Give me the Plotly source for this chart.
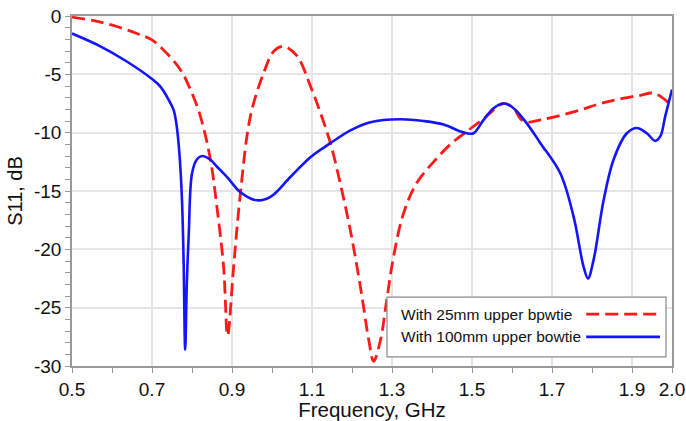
import plotly.graph_objects as go

# Data
freq_25 = [0.5, 0.554, 0.612, 0.662, 0.7, 0.737, 0.771, 0.796, 0.821, 0.846, 0.862, 0.879,
           0.889, 0.904, 0.921, 0.946, 0.979, 1.005, 1.029, 1.062, 1.096, 1.12, 1.146, 1.171,
           1.196, 1.221, 1.242, 1.254, 1.271, 1.287, 1.304, 1.329, 1.362, 1.412, 1.446, 1.479,
           1.529, 1.579, 1.604, 1.621, 1.637, 1.671, 1.712, 1.771, 1.821, 1.871, 1.921, 1.95,
           1.967, 1.983, 2.0]
s11_25 = [-0.1, -0.4, -0.9, -1.5, -2.05, -3.2, -4.6, -6.3, -8.6, -12.3, -16.3, -21.5,
          -27.4, -21.5, -15.2, -8.6, -4.9, -3.0, -2.6, -3.4, -6.0, -8.2, -10.9, -14.4,
          -18.4, -23.2, -27.8, -29.6, -27.8, -24.3, -20.6, -16.9, -14.3, -12.2, -11.0, -10.1,
          -8.8, -7.5, -7.9, -8.8, -9.1, -8.9, -8.6, -8.05, -7.5, -7.1, -6.8, -6.6,
          -6.8, -7.2, -7.7]

freq_100 = [0.5, 0.571, 0.637, 0.7, 0.721, 0.742, 0.754, 0.762, 0.769, 0.775, 0.779, 0.783,
            0.787, 0.792, 0.8, 0.812, 0.825, 0.845, 0.862, 0.89, 0.921, 0.9625, 0.996, 1.046,
            1.096, 1.146, 1.196, 1.246, 1.321, 1.379, 1.429, 1.471, 1.487, 1.504, 1.529, 1.554,
            1.579, 1.604, 1.637, 1.671, 1.721, 1.754, 1.779, 1.79, 1.804, 1.829, 1.854,
            1.887, 1.912, 1.937, 1.958, 1.971, 1.983, 2.0]
s11_100 = [-1.5, -2.6, -3.9, -5.4, -6.05, -7.2, -8.05, -9.5, -12.0, -15.8, -21.0, -28.6,
           -23.0, -18.6, -13.5, -12.3, -12.0, -12.3, -12.9, -13.9, -15.1, -15.8, -15.5, -13.8,
           -12.1, -10.9, -9.8, -9.1, -8.85, -9.0, -9.3, -9.9, -10.05, -10.05, -8.9, -7.9,
           -7.5, -7.9, -9.2, -10.9, -13.5, -17.2, -21.5, -22.5, -20.9, -15.8, -12.3,
           -10.05, -9.6, -10.05, -10.7, -10.3, -8.6, -6.3]

x_tickvals = [0.5, 0.7, 0.9, 1.1, 1.3, 1.5, 1.7, 1.9, 2.0]
x_ticktext = ["0.5", "0.7", "0.9", "1.1", "1.3", "1.5", "1.7", "1.9", "2.0"]
y_tickvals = [0, -5, -10, -15, -20, -25, -30]
y_ticktext = ["0", "-5", "-10", "-15", "-20", "-25", "-30"]

names = ["With 25mm upper bpwtie", "With 100mm upper bowtie"]
RED = "#ff1a1a"
BLUE = "#1414ff"
FONT = "Liberation Sans, Arial, sans-serif"

fig = go.Figure()
fig.add_trace(go.Scatter(x=freq_25, y=s11_25, mode="lines", name=names[0],
                         line=dict(color=RED, width=2.8, dash="13px,6px", shape="spline", smoothing=1.0)))
fig.add_trace(go.Scatter(x=freq_100, y=s11_100, mode="lines", name=names[1],
                         line=dict(color=BLUE, width=2.6, shape="spline", smoothing=1.0)))

axis_common = dict(showline=True, linecolor="#9a9a9a", linewidth=1.5, mirror=True,
                   gridcolor="#e6e6e6", gridwidth=1.5, zeroline=False, automargin=False,
                   ticks="outside", ticklen=5, tickcolor="#9a9a9a", tickwidth=1,
                   tickfont=dict(family=FONT, size=19, color="#111"))

fig.update_xaxes(range=[0.5, 2.0], tickvals=x_tickvals, ticktext=x_ticktext,
                 minor=dict(dtick=0.1, tick0=0.5, ticks="outside", ticklen=5,
                            tickcolor="#9a9a9a", showgrid=False),
                 title=dict(text="Frequency, GHz", font=dict(family=FONT, size=20.5, color="#111"),
                            standoff=3),
                 **axis_common)
fig.update_yaxes(range=[-30, 0], tickvals=y_tickvals, ticktext=y_ticktext,
                 minor=dict(dtick=1, tick0=0, ticks="outside", ticklen=5,
                            tickcolor="#9a9a9a", showgrid=False),
                 title=dict(text="S11, dB", font=dict(family=FONT, size=20, color="#111"),
                            standoff=6),
                 **axis_common)

# Legend box (text left, line sample right, as in the reference)
shapes = [dict(type="rect", xref="paper", yref="paper", x0=0.525, x1=0.99, y0=0.026, y1=0.197,
               line=dict(color="#8a8a8a", width=1.2), fillcolor="white", layer="above")]
rows_y = [0.148, 0.083]
colors = [RED, BLUE]
dashes = ["13px,6px", "solid"]
annotations = []
for name, ry, c, d in zip(names, rows_y, colors, dashes):
    annotations.append(dict(xref="paper", yref="paper", x=0.545, y=ry, text=name, showarrow=False,
                            xanchor="left", yanchor="middle",
                            font=dict(family=FONT, size=15.5, color="#111")))
    shapes.append(dict(type="line", xref="paper", yref="paper", x0=0.857, x1=0.98, y0=ry, y1=ry,
                       line=dict(color=c, width=2.8, dash=d), layer="above"))

fig.update_layout(width=686, height=421, margin=dict(l=72, r=14, t=16, b=55),
                  paper_bgcolor="white", plot_bgcolor="white", showlegend=False,
                  shapes=shapes, annotations=annotations)

fig.write_html("out.html")
